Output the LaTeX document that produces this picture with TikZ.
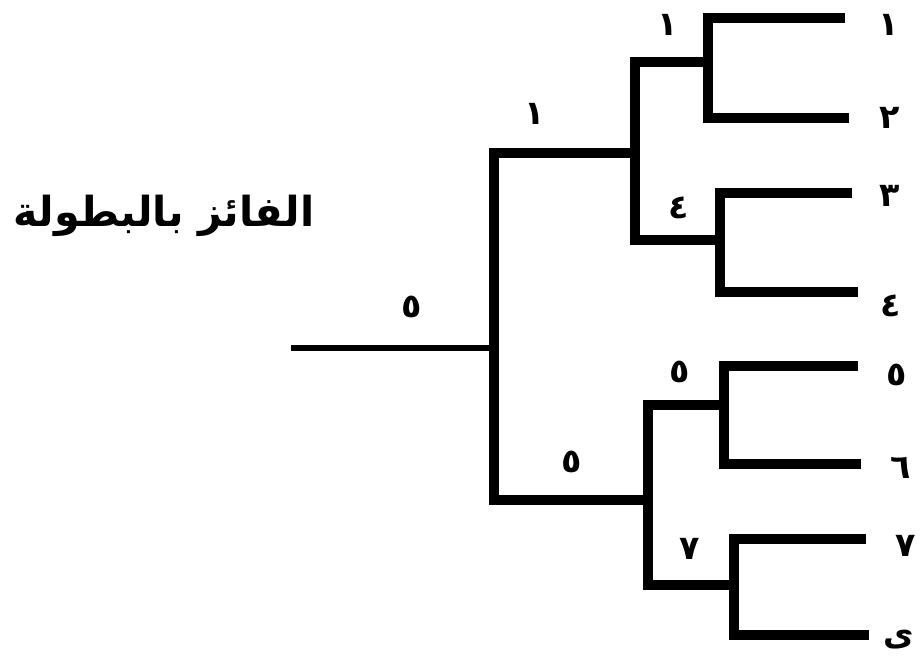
\documentclass[tikz,border=0pt]{standalone}
\usepackage{fontspec}
\newfontfamily\arabicfont[Script=Arabic]{DejaVu Sans}
\TeXXeTstate=1
\begin{document}
\begin{tikzpicture}[x=0.75pt,y=-0.75pt]
\tikzset{
  bracket/.style={line width=7pt, line join=miter, line cap=butt, black},
  stub/.style={line width=4.5pt, line cap=butt, black},
  num/.style={font=\arabicfont\bfseries\fontsize{25}{25}\selectfont, inner sep=0pt},
  title/.style={font=\arabicfont\bfseries\fontsize{31}{31}\selectfont, inner sep=0pt}
}
\useasboundingbox (0,0) rectangle (921,663);
% round 1 ends
\coordinate (r1) at (845,18);  \coordinate (a1) at (708,18);
\coordinate (r2) at (849,118); \coordinate (a2) at (708,118);
\coordinate (r3) at (852,193); \coordinate (a3) at (720,193);
\coordinate (r4) at (858,292); \coordinate (a4) at (720,292);
\coordinate (r5) at (858,366); \coordinate (a5) at (724,366);
\coordinate (r6) at (861,464); \coordinate (a6) at (724,464);
\coordinate (r7) at (866,539); \coordinate (a7) at (734,539);
\coordinate (r8) at (869,635); \coordinate (a8) at (734,635);
% round 2
\coordinate (m12) at (708,62);  \coordinate (b1) at (635,62);
\coordinate (m34) at (720,240); \coordinate (b2) at (635,240);
\coordinate (m56) at (724,405); \coordinate (b3) at (648,405);
\coordinate (m78) at (734,585); \coordinate (b4) at (648,585);
% semifinals
\coordinate (s1) at (635,153);  \coordinate (c1) at (494,153);
\coordinate (s2) at (648,500);  \coordinate (c2) at (494,500);
% final
\coordinate (f) at (494,348);   \coordinate (w) at (291,348);

\draw[bracket] (r1) -- (a1) -- (a2) -- (r2);
\draw[bracket] (r3) -- (a3) -- (a4) -- (r4);
\draw[bracket] (r5) -- (a5) -- (a6) -- (r6);
\draw[bracket] (r7) -- (a7) -- (a8) -- (r8);
\draw[bracket] (m12) -- (b1) -- (b2) -- (m34);
\draw[bracket] (m56) -- (b3) -- (b4) -- (m78);
\draw[bracket] (s1) -- (c1) -- (c2) -- (s2);
\draw[stub] (f) -- (w);

% entrant labels
\node[num] (n1) at (889,25)  {١};
\node[num] (n2) at (890,118) {٢};
\node[num] (n3) at (890,196) {٣};
\node[num] (n4) at (891,306) {٤};
\node[num] (n5) at (897,375) {٥};
\node[num] (n6) at (901,468) {٦};
\node[num] (n7) at (906,546) {٧};
\node[num] (n8) at (899,640) {ى};
% winners
\node[num] (w12) at (668,25)  {١};
\node[num] (w34) at (679,208) {٤};
\node[num] (w56) at (680,372) {٥};
\node[num] (w78) at (690,549) {٧};
\node[num] (ws1) at (535,114) {١};
\node[num] (ws2) at (572,462) {٥};
\node[num] (wf)  at (412,307) {٥};
% title
\node[title] (t) at (164,216) {\beginR الفائز بالبطولة\endR};
\end{tikzpicture}
\end{document}
